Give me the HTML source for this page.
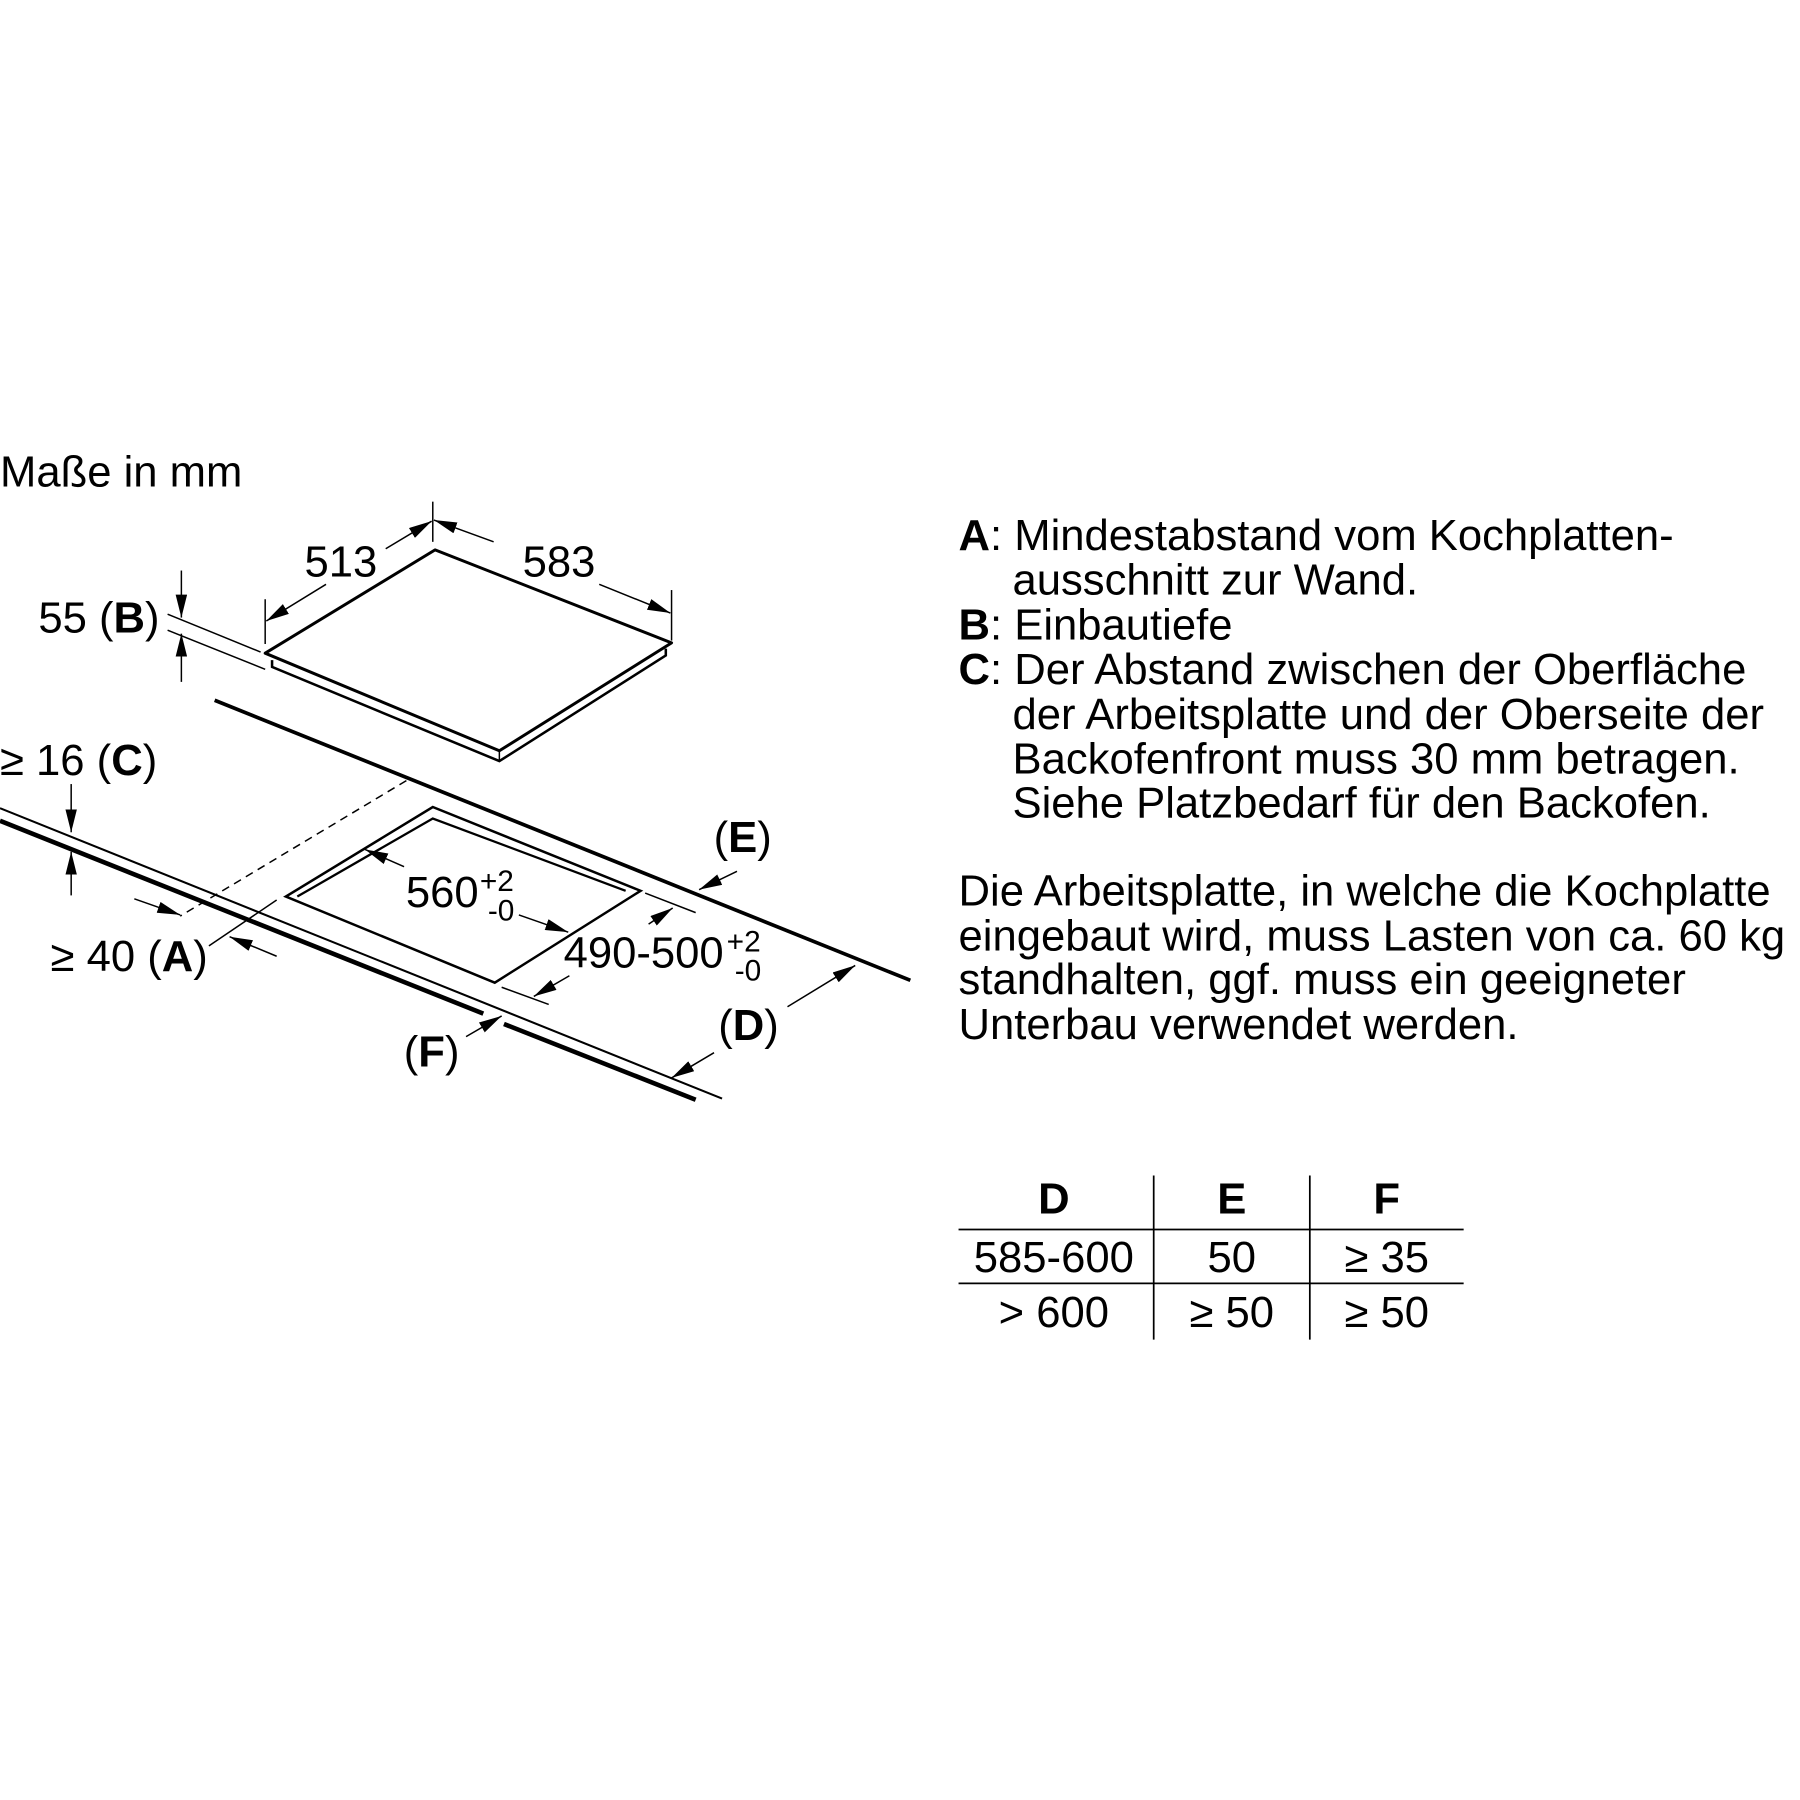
<!DOCTYPE html>
<html><head><meta charset="utf-8"><style>
html,body{margin:0;padding:0;background:#fff}
svg{display:block}
text{font-family:"Liberation Sans",Arial,sans-serif;fill:#000}
</style></head><body>
<svg width="1800" height="1800" viewBox="0 0 1568 1568" xmlns="http://www.w3.org/2000/svg">
<defs>
<marker id="ar" viewBox="0 0 20 10" refX="20" refY="5" markerWidth="20" markerHeight="10" markerUnits="userSpaceOnUse" orient="auto">
<path d="M0,0 L20,5 L0,10 z" fill="#000"/></marker>
</defs>
<rect width="1568" height="1568" fill="#fff"/>
<text x="0" y="424" font-size="38">Maße in mm</text>

<g stroke="#000" fill="none" stroke-width="1.3">
<path d="M379,479 L585,560 L435,654 L231,569 Z" stroke-width="2.6" stroke-linejoin="round"/>
<path d="M237,575 L237,581 L435,663 L580,571 L580,565" stroke-width="2.2"/>
<line x1="435" y1="654" x2="435" y2="663"/>
<line x1="231" y1="522" x2="231" y2="561"/>
<line x1="377" y1="437" x2="377" y2="472"/>
<line x1="284" y1="509" x2="232" y2="541" marker-end="url(#ar)"/>
<line x1="336" y1="478" x2="376" y2="454" marker-end="url(#ar)"/>
<line x1="585" y1="514" x2="585" y2="558"/>
<line x1="430" y1="472" x2="378" y2="453" marker-end="url(#ar)"/>
<line x1="522" y1="509" x2="584" y2="534" marker-end="url(#ar)"/>
<line x1="146" y1="535" x2="227" y2="568"/>
<line x1="146" y1="549" x2="231" y2="583"/>
<line x1="158" y1="497" x2="158" y2="538" marker-end="url(#ar)"/>
<line x1="158" y1="594" x2="158" y2="552" marker-end="url(#ar)"/>
<line x1="187" y1="610" x2="793" y2="854" stroke-width="3.2"/>
<line x1="354" y1="680" x2="157" y2="798" stroke-dasharray="7,5"/>
<line x1="0" y1="704" x2="629" y2="957" stroke-width="1.8"/>
<line x1="0" y1="715" x2="421" y2="883" stroke-width="4"/>
<line x1="439" y1="892" x2="606" y2="958" stroke-width="4"/>
<line x1="62" y1="683" x2="62" y2="725" marker-end="url(#ar)"/>
<line x1="62" y1="780" x2="62" y2="742" marker-end="url(#ar)"/>
<line x1="117" y1="783" x2="157" y2="797" marker-end="url(#ar)"/>
<line x1="182" y1="824" x2="241" y2="784"/>
<line x1="241" y1="833" x2="200" y2="816" marker-end="url(#ar)"/>
<line x1="406" y1="903" x2="437" y2="885" marker-end="url(#ar)"/>
<path d="M377,703 L558,776 L431,856 L249,781 Z" stroke-width="2.2" stroke-linejoin="miter"/>
<path d="M259,781 L377,713 L545,776" stroke-width="2"/>
<line x1="352" y1="755" x2="318" y2="740" marker-end="url(#ar)"/>
<line x1="452" y1="797" x2="495" y2="812" marker-end="url(#ar)"/>
<line x1="562" y1="778" x2="606" y2="795"/>
<line x1="437" y1="860" x2="478" y2="875"/>
<line x1="565" y1="805" x2="586" y2="791" marker-end="url(#ar)"/>
<line x1="496" y1="850" x2="465" y2="868" marker-end="url(#ar)"/>
<line x1="642" y1="759" x2="609" y2="775" marker-end="url(#ar)"/>
<line x1="686" y1="877" x2="745" y2="841" marker-end="url(#ar)"/>
<line x1="622" y1="917" x2="585" y2="939" marker-end="url(#ar)"/>
</g>

<g font-size="38">
<text x="297" y="502" text-anchor="middle">513</text>
<text x="487" y="502" text-anchor="middle">583</text>
<text x="139" y="551" text-anchor="end">55 (<tspan font-weight="bold">B</tspan>)</text>
<text x="0" y="675">≥ 16 (<tspan font-weight="bold">C</tspan>)</text>
<text x="181" y="846" text-anchor="end">≥ 40 (<tspan font-weight="bold">A</tspan>)</text>
<text x="376" y="929" text-anchor="middle">(<tspan font-weight="bold">F</tspan>)</text>
<text x="647" y="742" text-anchor="middle">(<tspan font-weight="bold">E</tspan>)</text>
<text x="652" y="906" text-anchor="middle">(<tspan font-weight="bold">D</tspan>)</text>
<text x="417" y="790" text-anchor="end">560</text>
<text x="491" y="843">490-500</text>
</g>
<g font-size="26">
<text x="418" y="776">+2</text>
<text x="425" y="802">-0</text>
<text x="633" y="829">+2</text>
<text x="640" y="854">-0</text>
</g>

<g font-size="38">
<text x="835" y="479"><tspan font-weight="bold">A</tspan>: Mindestabstand vom Kochplatten-</text>
<text x="882" y="518">ausschnitt zur Wand.</text>
<text x="835" y="557"><tspan font-weight="bold">B</tspan>: Einbautiefe</text>
<text x="835" y="596"><tspan font-weight="bold">C</tspan>: Der Abstand zwischen der Oberfläche</text>
<text x="882" y="635">der Arbeitsplatte und der Oberseite der</text>
<text x="882" y="674">Backofenfront muss 30 mm betragen.</text>
<text x="882" y="712">Siehe Platzbedarf für den Backofen.</text>
<text x="835" y="789">Die Arbeitsplatte, in welche die Kochplatte</text>
<text x="835" y="828">eingebaut wird, muss Lasten von ca. 60 kg</text>
<text x="835" y="866">standhalten, ggf. muss ein geeigneter</text>
<text x="835" y="905">Unterbau verwendet werden.</text>
</g>

<g stroke="#000" stroke-width="1.5">
<line x1="835" y1="1071" x2="1275" y2="1071"/>
<line x1="835" y1="1118" x2="1275" y2="1118"/>
<line x1="1005" y1="1024" x2="1005" y2="1167"/>
<line x1="1141" y1="1024" x2="1141" y2="1167"/>
</g>
<g font-size="38" text-anchor="middle">
<text x="918" y="1057" font-weight="bold">D</text>
<text x="1073" y="1057" font-weight="bold">E</text>
<text x="1208" y="1057" font-weight="bold">F</text>
<text x="918" y="1108">585-600</text>
<text x="1073" y="1108">50</text>
<text x="1208" y="1108">≥ 35</text>
<text x="918" y="1156">&gt; 600</text>
<text x="1073" y="1156">≥ 50</text>
<text x="1208" y="1156">≥ 50</text>
</g>
</svg>
</body></html>
